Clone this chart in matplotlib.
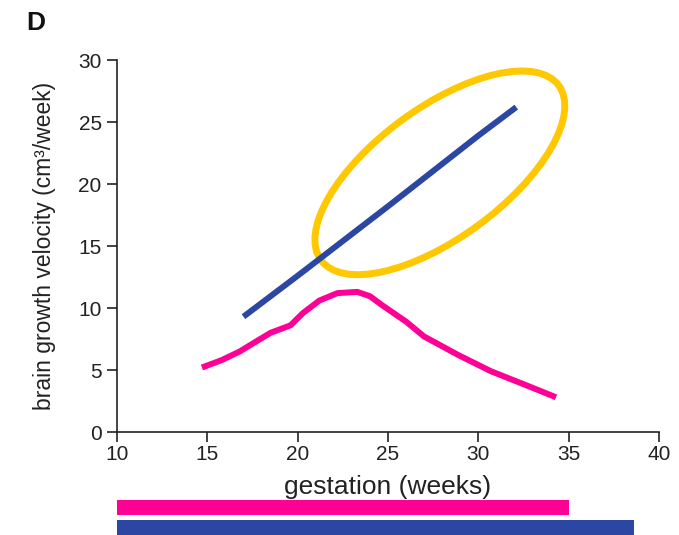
import numpy as np
import matplotlib
matplotlib.use("Agg")
import matplotlib.pyplot as plt
from matplotlib.patches import Ellipse
from matplotlib.transforms import ScaledTranslation

plt.rcParams['font.family'] = ['Liberation Sans', 'DejaVu Sans']

# brain growth velocity vs gestational age
blue_weeks = [17.0, 20.0, 25.0, 30.0, 32.1]
blue_velocity = [9.3, 12.6, 18.2, 23.9, 26.2]

pink_weeks = [14.7, 15.8, 16.8, 17.7, 18.5, 19.6, 20.3, 21.2, 22.2, 23.3, 24.0,
              24.7, 25.5, 26.0, 27.0, 28.9, 30.7, 32.6, 34.3]
pink_velocity = [5.2, 5.8, 6.5, 7.3, 8.0, 8.6, 9.6, 10.6, 11.2, 11.3, 10.95,
                 10.2, 9.4, 8.9, 7.7, 6.2, 4.9, 3.8, 2.8]

# gestation ranges covered by each dataset
pink_range = (10, 35)
blue_range = (10, 38.6)

xticks = [10, 15, 20, 25, 30, 35, 40]
yticks = [0, 5, 10, 15, 20, 25, 30]

pink = '#ff0096'
blue = '#2b47a3'
yellow = '#ffc800'
ink = '#222222'

fig = plt.figure(figsize=(6.79, 5.35), dpi=100)
ax = fig.add_axes([117 / 679, 1 - 432 / 535, 542 / 679, 372 / 535])

ax.plot(blue_weeks, blue_velocity, color=blue, lw=4.3, solid_capstyle='butt')
ax.plot(pink_weeks, pink_velocity, color=pink, lw=4.3, solid_capstyle='butt',
        solid_joinstyle='round')

# highlight ring around the upper part of the blue trend
trans = fig.dpi_scale_trans + ScaledTranslation(27.87, 20.9, ax.transData)
ring = Ellipse((0, 0), width=2.95, height=1.30, angle=36.3, transform=trans,
               fill=False, edgecolor=yellow, lw=5, clip_on=False)
ax.add_patch(ring)

ax.set_xlim(10, 40)
ax.set_ylim(0, 30)
ax.set_xticks(xticks)
ax.set_yticks(yticks)
for s in ['top', 'right']:
    ax.spines[s].set_visible(False)
for s in ['left', 'bottom']:
    ax.spines[s].set_linewidth(1.2)
    ax.spines[s].set_color(ink)
ax.tick_params(direction='out', length=7, width=1.2, color=ink,
               labelsize=15, labelcolor=ink)
ax.tick_params(axis='y', pad=4)
ax.tick_params(axis='x', pad=2)
ax.set_xlabel('gestation (weeks)', fontsize=19, color=ink, labelpad=8)
ax.set_ylabel('brain growth velocity (cm\u00b3/week)', fontsize=16.5, color=ink, labelpad=16)

fig.text(26 / 679, 1 - 30 / 535, 'D', fontsize=19, fontweight='bold', color='#111111')

# bars showing the gestation range for each curve
bx = fig.add_axes([117 / 679, 0, 542 / 679, 37 / 535])
bx.set_xlim(10, 40)
bx.set_ylim(0, 37)
bx.barh(27.5, pink_range[1] - pink_range[0], left=pink_range[0], height=15, color=pink)
bx.barh(7.5, blue_range[1] - blue_range[0], left=blue_range[0], height=15, color=blue)
bx.axis('off')

fig.savefig('out.png', dpi=100)
